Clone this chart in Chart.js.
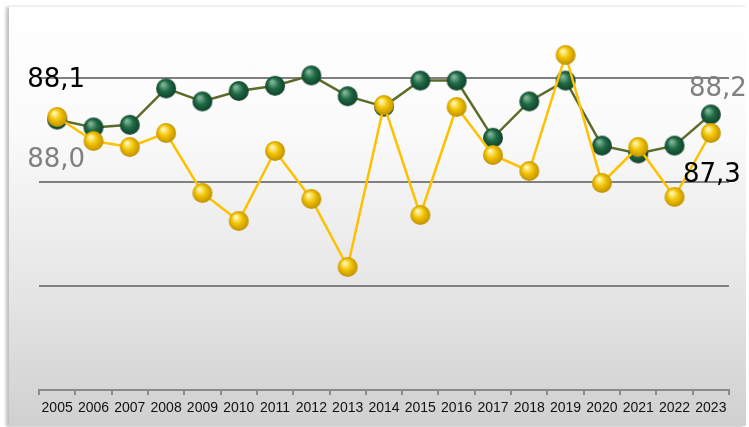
<!DOCTYPE html>
<html>
<head>
<meta charset="utf-8">
<script src="https://cdn.jsdelivr.net/npm/chart.js@4"></script>
<style>
  html, body { margin: 0; padding: 0; background: #fff; }
  #wrap { position: relative; width: 749px; height: 427px; overflow: hidden; }
  #panel {
    position: absolute; left: 9px; top: 6px; width: 737px; height: 419px;
    background: linear-gradient(to bottom, #ffffff 0%, #fafafa 30%, #e4e4e4 70%, #d0d0d0 100%);
    box-shadow: -3px 1px 3px rgba(0,0,0,0.25);
    border-top: 1px solid #eeeeee;
  }
  canvas { position: absolute; left: 0; top: 0; }
</style>
</head>
<body>
<div id="wrap">
  <div id="panel"></div>
  <canvas id="chart" width="749" height="427"></canvas>
</div>
<script>
const years = ["2005","2006","2007","2008","2009","2010","2011","2012","2013","2014",
               "2015","2016","2017","2018","2019","2020","2021","2022","2023"];
// yellow series (black labels)
const yellowValues = [88.1, 86.9, 86.6, 87.3, 84.3, 82.9, 86.4, 84.0, 80.6, 88.7,
                      83.2, 88.6, 86.2, 85.4, 91.2, 84.8, 86.6, 84.1, 87.3];
// green series (grey labels)
const greenValues = [88.0, 87.7, 87.8, 89.2, 88.7, 89.1, 89.3, 89.7, 88.9, 88.5,
                     89.5, 89.5, 87.3, 88.7, 89.5, 87.0, 86.7, 87.0, 88.2];
const gridValues = [77.6, 81.6, 85.6, 89.6];

// little shaded balls for the markers
function ball(light, mid, dark) {
  const c = document.createElement("canvas");
  c.width = 22; c.height = 22;
  const g = c.getContext("2d");
  const grad = g.createRadialGradient(8, 7, 1, 11, 11, 11);
  grad.addColorStop(0, light);
  grad.addColorStop(0.45, mid);
  grad.addColorStop(1, dark);
  g.fillStyle = grad;
  g.beginPath();
  g.arc(11, 11, 10, 0, Math.PI * 2);
  g.fill();
  return c;
}
const yellowBall = ball("#fff6b0", "#f2c200", "#b98a00");
const greenBall = ball("#7fb596", "#1f6a45", "#0e3a25");

// end labels (first and last point of each series)
const endLabels = {
  id: "endLabels",
  afterDatasetsDraw(chart) {
    const ctx = chart.ctx;
    ctx.save();
    ctx.font = "26px 'DejaVu Sans'";
    ctx.textAlign = "center";
    ctx.textBaseline = "middle";
    chart.data.datasets.forEach((ds, i) => {
      const pts = chart.getDatasetMeta(i).data;
      const first = pts[0], last = pts[pts.length - 1];
      const fmt = v => v.toFixed(1).replace(".", ",");
      ctx.fillStyle = ds.labelColor;
      ctx.fillText(fmt(ds.data[0]), first.x - 1, first.y + ds.firstDy);
      ctx.fillText(fmt(ds.data[ds.data.length - 1]), last.x + ds.lastDx, last.y + ds.lastDy);
    });
    ctx.restore();
  }
};

new Chart(document.getElementById("chart"), {
  type: "line",
  data: {
    labels: years,
    datasets: [
      {
        label: "yellow",
        data: yellowValues,
        yAxisID: "y2",
        borderColor: "#ffc000",
        borderWidth: 2.5,
        pointStyle: yellowBall,
        pointRadius: 10,
        tension: 0,
        labelColor: "#000000",
        firstDy: -37, lastDx: 1, lastDy: 42
      },
      {
        label: "green",
        data: greenValues,
        yAxisID: "y",
        borderColor: "#5b6b2c",
        borderWidth: 2.5,
        pointStyle: greenBall,
        pointRadius: 10,
        tension: 0,
        labelColor: "#808080",
        firstDy: 41, lastDx: 7, lastDy: -25
      }
    ]
  },
  options: {
    responsive: false,
    animation: false,
    layout: { padding: { left: 39, right: 20, top: 26, bottom: 0 } },
    plugins: { legend: { display: false }, tooltip: { enabled: false } },
    scales: {
      x: {
        offset: true,
        grid: { offset: true, drawOnChartArea: false, color: "#8a8a8a", lineWidth: 2, tickLength: 5 },
        border: { color: "#8a8a8a", width: 2 },
        ticks: { color: "#111", font: { family: "'Liberation Sans'", size: 14 }, padding: 5, maxRotation: 0, autoSkip: false },
        afterFit: s => { s.height = 37; }
      },
      y: {
        min: 77.6,
        max: 91.6,
        afterBuildTicks: s => { s.ticks = gridValues.map(v => ({ value: v })); },
        ticks: { display: false },
        grid: { color: "#808080", lineWidth: 2, drawTicks: false },
        border: { display: false },
        afterFit: s => { s.width = 0; }
      },
      y2: {
        display: false,
        min: 74.45,
        max: 92.65
      }
    }
  },
  plugins: [endLabels]
});
</script>
</body>
</html>
